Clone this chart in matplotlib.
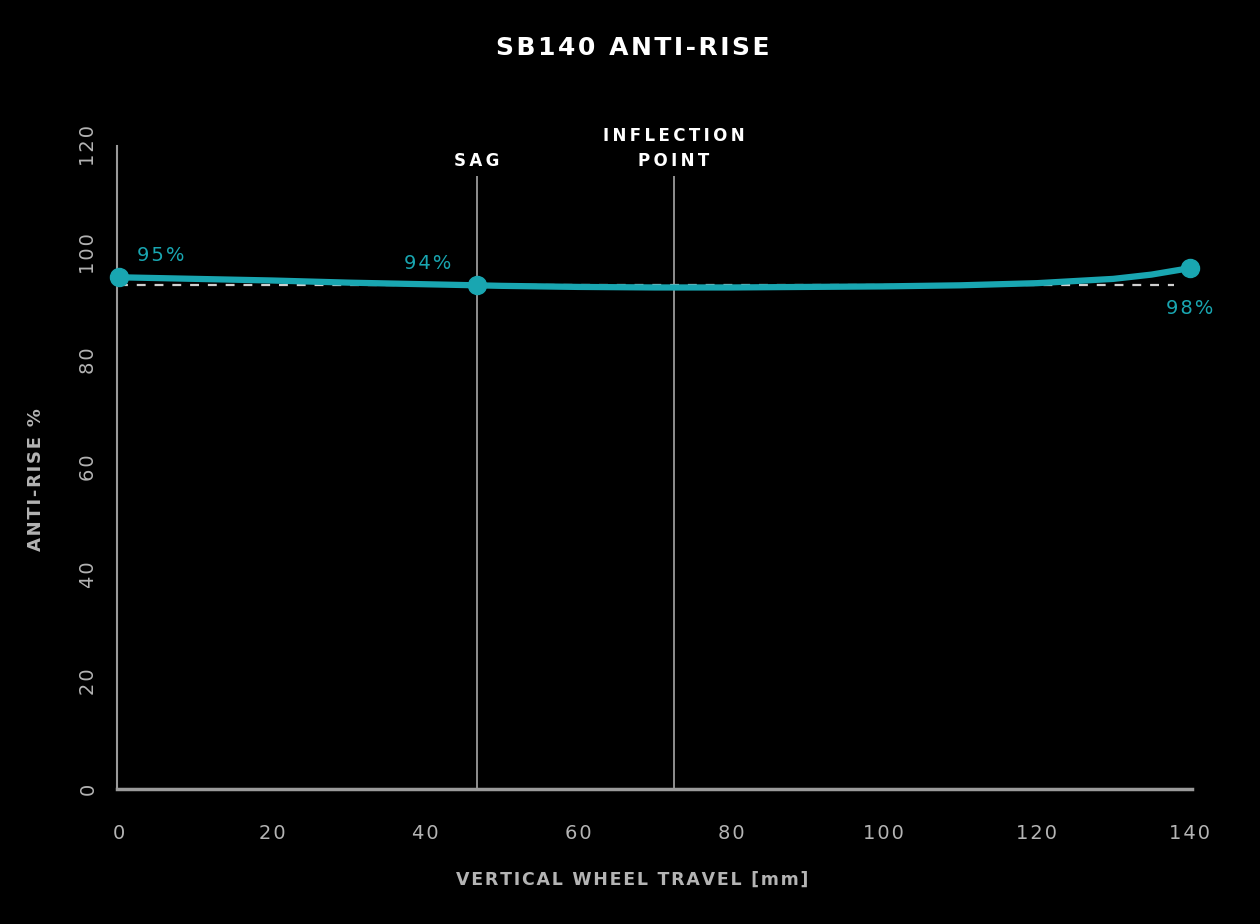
import matplotlib
matplotlib.use("Agg")
import matplotlib.pyplot as plt

# data
travel = [0, 10, 20, 30, 40, 46.8, 50, 60, 70, 80, 90, 100, 110, 120, 130, 135, 140]
anti_rise = [95.5, 95.2, 94.9, 94.5, 94.2, 94.0, 93.9, 93.7, 93.6, 93.6, 93.7, 93.8, 94.0, 94.4, 95.2, 96.0, 97.2]
key_x = [0, 46.8, 140]
key_y = [95.5, 94.0, 97.2]
key_labels = ["95%", "94%", "98%"]
sag_x = 46.8
inflection_x = 72.5
reference_level = 94.0
x_ticks = [0, 20, 40, 60, 80, 100, 120, 140]
y_ticks = [0, 20, 40, 60, 80, 100, 120]

TEAL = "#19a6b1"
GRAY = "#b4b4b4"
LINE_GRAY = "#9a9a9a"


def spaced(s, sep="\u200a"):
    return sep.join(s)


fig = plt.figure(figsize=(12.6, 9.24), dpi=100, facecolor="black")
ax = fig.add_axes([117 / 1260, 135 / 924, 1075 / 1260, 643 / 924])
ax.set_facecolor("black")
ax.set_xlim(-0.3, 140.3)
ax.set_ylim(0, 120)

for side in ["top", "right"]:
    ax.spines[side].set_visible(False)
ax.spines["left"].set_color(LINE_GRAY)
ax.spines["left"].set_linewidth(1.5)
ax.spines["bottom"].set_color(LINE_GRAY)
ax.spines["bottom"].set_linewidth(2.5)

ax.set_xticks(x_ticks)
ax.set_xticklabels([spaced(str(t)) for t in x_ticks])
ax.set_yticks(y_ticks)
ax.set_yticklabels([spaced(str(t)) for t in y_ticks], rotation=90, va="center")
ax.tick_params(axis="both", length=0, colors=GRAY, labelsize=14)
ax.tick_params(axis="x", pad=25)
ax.tick_params(axis="y", pad=14)

# sag and inflection markers
ax.vlines([sag_x, inflection_x], 0, 114.4, color=LINE_GRAY, linewidth=1.3, zorder=1)
ax.text(sag_x, 115.6, spaced("SAG", "\u2009"), color="white", fontsize=12,
        fontweight="bold", ha="center", va="bottom")
ax.text(inflection_x, 115.6, spaced("INFLECTION", "\u2009") + "\n" + spaced("POINT", "\u2009"),
        color="white", fontsize=12, fontweight="bold", ha="center", va="bottom",
        linespacing=1.45)

# reference dashed level
ax.plot([0, 138], [reference_level, reference_level], color="#cfcfcf",
        linestyle=(0, (4, 4)), linewidth=1.6, zorder=2)

ax.plot(travel, anti_rise, color=TEAL, linewidth=4.5, solid_capstyle="round", zorder=3)
ax.plot(key_x, key_y, "o", color=TEAL, markersize=13, zorder=4, clip_on=False)

offsets = [(2.3, 4.0, "left"), (-6.5, 4.0, "center"), (0, -7.5, "center")]
for x, y, lab, (dx, dy, ha) in zip(key_x, key_y, key_labels, offsets):
    ax.text(x + dx, y + dy, spaced(lab), color=TEAL, fontsize=14, ha=ha, va="center")

fig.text(633 / 1260, 1 - 48 / 924, spaced("SB140 ANTI-RISE", "\u200a"), color="white",
         fontsize=18, fontweight="bold", ha="center", va="center")
fig.text(36 / 1260, 1 - 480 / 924, spaced("ANTI-RISE %", "\u200a"), color=GRAY,
         fontsize=13, fontweight="bold", rotation=90, ha="center", va="center")
fig.text(632 / 1260, 1 - 880 / 924, spaced("VERTICAL WHEEL TRAVEL [mm]", "\u200a"),
         color=GRAY, fontsize=12.5, fontweight="bold", ha="center", va="center")

fig.savefig("out.png", dpi=100, facecolor="black")
